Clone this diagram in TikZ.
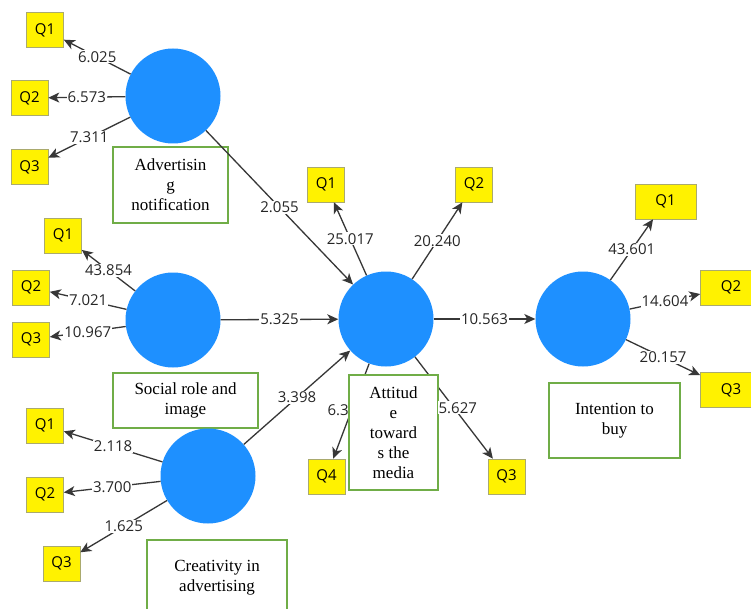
\documentclass[tikz,border=0pt]{standalone}
\usepackage{fontspec}
\newfontfamily\numfont{Open Sans}
\newfontfamily\boxfont{Liberation Serif}
\usetikzlibrary{arrows.meta}
\definecolor{plsblue}{RGB}{30,144,255}
\definecolor{boxgreen}{RGB}{112,173,71}
\definecolor{qborder}{RGB}{170,170,110}
\definecolor{lineg}{RGB}{55,55,55}
\tikzset{
  lv/.style={circle, fill=plsblue, draw=none, minimum size=95pt, inner sep=0pt},
  qbox/.style={rectangle, fill=yellow, draw=qborder, line width=0.6pt, minimum width=37pt, minimum height=35pt, inner sep=0pt, font=\numfont\fontsize{15}{17}\selectfont},
  qwide/.style={qbox, minimum width=61pt},
  gbox/.style={rectangle, draw=boxgreen, line width=1.2pt, fill=white, align=center, inner sep=0pt, font=\boxfont\fontsize{17}{20}\selectfont},
  conn/.style={draw=lineg, line width=1.3pt, -{Stealth[length=11pt,width=10pt,inset=3pt]}},
  lbl/.style={fill=white, inner sep=1pt, text=black!85, font=\numfont\fontsize{15}{17}\selectfont}
}
\begin{document}
\begin{tikzpicture}[x=1pt,y=-1pt]
\fill[white] (0,0) rectangle (751,609);
\clip (0,0) rectangle (751,609);
% boxes below lines
\node[gbox, minimum width=115pt, minimum height=76pt] (Abox) at (170.5,185) {Advertisin\\g\\notification};
\node[gbox, minimum width=145pt, minimum height=55pt] (Sbox) at (185.5,400.5) {Social role and\\image};
\node[gbox, minimum width=140pt, minimum height=76pt] (Cbox) at (217,578) {Creativity in\\advertising};
\node[gbox, minimum width=131pt, minimum height=75pt] (Ibox) at (614.5,420.5) {Intention to\\buy};
% latent variables
\node[lv] (A) at (173,96) {};
\node[lv] (S) at (173,320) {};
\node[lv] (C) at (208,476) {};
\node[lv] (T) at (386,319) {};
\node[lv] (I) at (583,319) {};
% indicators
\node[qbox] (AQ1) at (45,30) {Q1};
\node[qbox] (AQ2) at (29.5,98) {Q2};
\node[qbox] (AQ3) at (29.5,167) {Q3};
\node[qbox] (SQ1) at (63,235.5) {Q1};
\node[qbox] (SQ2) at (31,287.5) {Q2};
\node[qbox] (SQ3) at (31,339.5) {Q3};
\node[qbox] (CQ1) at (45,425.5) {Q1};
\node[qbox] (CQ2) at (45,494.5) {Q2};
\node[qbox] (CQ3) at (61.5,563.5) {Q3};
\node[qbox] (TQ1) at (326,184.5) {Q1};
\node[qbox] (TQ2) at (474,184.5) {Q2};
\node[qbox] (TQ4) at (326.5,476.5) {Q4};
\node[qbox] (TQ3) at (506.5,476.5) {Q3};
\node[qwide] (IQ1) at (665.5,201.5) {Q1};
\node[qwide] (IQ2) at (731,287.5) {Q2};
\node[qwide] (IQ3) at (731,390) {Q3};
% outer loadings
\draw[conn] (A) -- node[lbl] (lA1) {6.025} (AQ1);
\draw[conn] (A) -- node[lbl] (lA2) {6.573} (AQ2);
\draw[conn] (A) -- node[lbl] (lA3) {7.311} (AQ3);
\draw[conn] (S) -- node[lbl] (lS1) {43.854} (SQ1);
\draw[conn] (S) -- node[lbl] (lS2) {7.021} (SQ2);
\draw[conn] (S) -- node[lbl] (lS3) {10.967} (SQ3);
\draw[conn] (C) -- node[lbl] (lC1) {2.118} (CQ1);
\draw[conn] (C) -- node[lbl] (lC2) {3.700} (CQ2);
\draw[conn] (C) -- node[lbl] (lC3) {1.625} (CQ3);
\draw[conn] (T) -- node[lbl] (lT1) {25.017} (TQ1);
\draw[conn] (T) -- node[lbl] (lT2) {20.240} (TQ2);
\draw[conn] (T) -- (TQ4);
\node[lbl, anchor=east, inner xsep=0.5pt] (lT4) at (349.5,410) {6.3};
\draw[conn] (T) -- coordinate[midway] (mT3) (TQ3);
\draw[conn] (I) -- node[lbl] (lI1) {43.601} (IQ1);
\draw[conn] (I) -- node[lbl] (lI2) {14.604} (IQ2);
\draw[conn] (I) -- node[lbl] (lI3) {20.157} (IQ3);
% structural paths
\draw[conn] (A) -- node[lbl] (pAT) {2.055} (T);
\draw[conn] (S) -- node[lbl] (pST) {5.325} (T);
\draw[conn] (C) -- node[lbl] (pCT) {3.398} (T);
\draw[conn] (T) -- node[lbl] (pTI) {10.563} (I);
% attitude box on top
\node[gbox, minimum width=89pt, minimum height=115pt] (Tbox) at (393.5,432.5) {Attitud\\e\\toward\\s the\\media};
\node[lbl, anchor=west, inner xsep=0.5pt] (lT3) at ([xshift=-16pt]mT3) {5.627};
\end{tikzpicture}
\end{document}
